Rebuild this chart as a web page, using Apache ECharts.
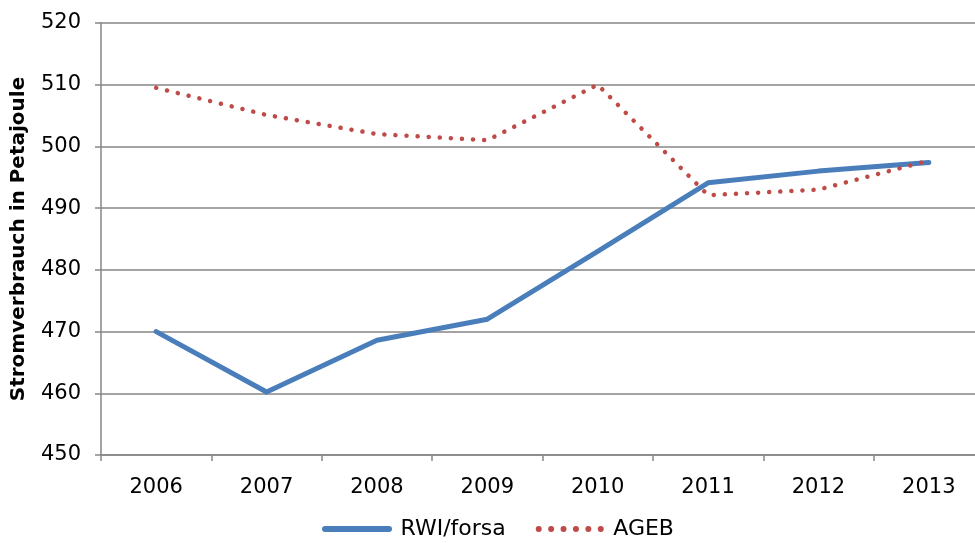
<!DOCTYPE html>
<html>
<head>
<meta charset="utf-8">
<script src="https://cdn.jsdelivr.net/npm/echarts@6/dist/echarts.min.js"></script>
<style>html,body{margin:0;padding:0;background:#fff}#c{width:975px;height:543px}</style>
</head>
<body>
<div id="c"></div>
<script>
const years = ['2006','2007','2008','2009','2010','2011','2012','2013'];
const rwiForsa = [470, 460.2, 468.6, 472, 483, 494.1, 496, 497.4];
const ageb = [509.5, 505.1, 502, 501, 510, 492.1, 493, 497.7];
const yTicks = {min: 450, max: 520, interval: 10};

function dotsPath() {
  let p = 'path://';
  for (let i = 0; i < 6; i++) {
    const cx = 3 + i * 12.4;
    p += 'M' + (cx - 3) + ',3 a3,3 0 1,0 6,0 a3,3 0 1,0 -6,0 ';
  }
  return p;
}
const blueIcon = 'path://M3,0 H67 A3,3 0 0,1 67,6 H3 A3,3 0 0,1 3,0 Z';

const chart = echarts.init(document.getElementById('c'));
const font = "'DejaVu Sans', Verdana, sans-serif";
chart.setOption({
  animation: false,
  backgroundColor: '#fff',
  grid: {left: 101, right: -9, top: 23, bottom: 88, containLabel: false, outerBoundsMode: 'none'},
  legend: {
    top: 518, left: 322, padding: 0,
    itemWidth: 71, itemHeight: 6, itemGap: 30,
    textStyle: {fontFamily: font, fontSize: 22, color: '#000', padding: [0, 0, 0, 3]},
    data: [
      {name: 'RWI/forsa', icon: blueIcon, itemStyle: {color: '#4a7ebb'}},
      {name: 'AGEB', icon: dotsPath(), itemStyle: {color: '#be4b48'}}
    ]
  },
  xAxis: {
    type: 'category', data: years, boundaryGap: true,
    axisLine: {lineStyle: {color: '#868686', width: 1.5}},
    axisTick: {show: true, length: 6, lineStyle: {color: '#868686', width: 1.5}},
    axisLabel: {fontFamily: font, fontSize: 21, color: '#000', margin: 22}
  },
  yAxis: {
    type: 'value', min: yTicks.min, max: yTicks.max, interval: yTicks.interval,
    name: 'Stromverbrauch in Petajoule', nameLocation: 'middle', nameGap: 72,
    nameTextStyle: {fontFamily: font, fontSize: 20, fontWeight: 'bold', color: '#000'},
    axisLine: {show: true, lineStyle: {color: '#868686', width: 1.5}},
    axisTick: {show: true, length: 6, lineStyle: {color: '#868686', width: 1.5}},
    splitLine: {lineStyle: {color: '#868686', width: 1.5}},
    axisLabel: {fontFamily: font, fontSize: 21, color: '#000', margin: 20}
  },
  series: [
    {
      name: 'RWI/forsa', type: 'line', data: rwiForsa, symbol: 'none', smooth: false,
      color: '#4a7ebb',
      lineStyle: {color: '#4a7ebb', width: 5, cap: 'round', join: 'round'}
    },
    {
      name: 'AGEB', type: 'line', data: ageb, symbol: 'none', smooth: false,
      color: '#be4b48',
      lineStyle: {color: '#be4b48', width: 4.5, type: [0.1, 11], cap: 'round'}
    }
  ]
});
</script>
</body>
</html>
